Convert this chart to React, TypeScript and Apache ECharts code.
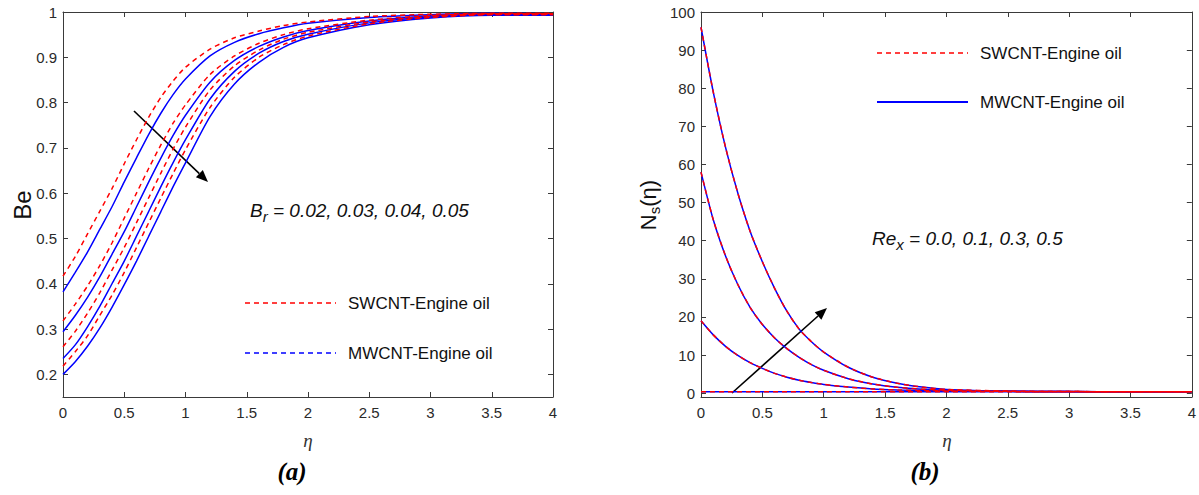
import React, { useEffect, useRef } from "react";
import * as echarts from "echarts";

// eta grid shared by all curves
const etas = [0, 0.1, 0.2, 0.3, 0.4, 0.5, 0.6, 0.7, 0.8, 0.9, 1.0, 1.2, 1.4, 1.6, 1.8, 2.0, 2.5, 3.0, 3.5, 4.0];

// (a) Bejan number, Br = 0.02, 0.03, 0.04, 0.05
const beSW_002 = [0.417, 0.46, 0.51, 0.56, 0.61, 0.665, 0.718, 0.768, 0.812, 0.848, 0.878, 0.918, 0.943, 0.958, 0.97, 0.978, 0.99, 0.995, 0.997, 0.997];
const beMW_002 = [0.382, 0.425, 0.47, 0.52, 0.57, 0.625, 0.678, 0.73, 0.777, 0.818, 0.852, 0.903, 0.933, 0.952, 0.965, 0.975, 0.988, 0.994, 0.997, 0.996];
const beSW_003 = [0.318, 0.355, 0.395, 0.44, 0.49, 0.545, 0.6, 0.655, 0.707, 0.755, 0.795, 0.862, 0.903, 0.931, 0.95, 0.963, 0.982, 0.992, 0.996, 0.996];
const beMW_003 = [0.294, 0.33, 0.37, 0.415, 0.465, 0.515, 0.57, 0.625, 0.678, 0.728, 0.772, 0.845, 0.893, 0.924, 0.945, 0.959, 0.98, 0.991, 0.995, 0.995];
const beSW_004 = [0.261, 0.295, 0.335, 0.38, 0.43, 0.48, 0.535, 0.59, 0.645, 0.698, 0.746, 0.828, 0.881, 0.916, 0.94, 0.955, 0.978, 0.99, 0.995, 0.995];
const beMW_004 = [0.235, 0.265, 0.305, 0.35, 0.4, 0.45, 0.505, 0.56, 0.615, 0.668, 0.718, 0.808, 0.869, 0.909, 0.935, 0.951, 0.976, 0.989, 0.994, 0.994];
const beSW_005 = [0.218, 0.25, 0.285, 0.33, 0.375, 0.425, 0.48, 0.535, 0.59, 0.644, 0.696, 0.789, 0.856, 0.9, 0.928, 0.947, 0.974, 0.988, 0.994, 0.994];
const beMW_005 = [0.2, 0.228, 0.262, 0.302, 0.348, 0.398, 0.45, 0.505, 0.56, 0.615, 0.667, 0.769, 0.841, 0.889, 0.922, 0.943, 0.972, 0.987, 0.993, 0.993];

// (b) Entropy generation Ns, Re_x = 0.0, 0.1, 0.3, 0.5
const ns_00 = [0.4, 0.4, 0.4, 0.4, 0.4, 0.4, 0.4, 0.4, 0.4, 0.4, 0.4, 0.4, 0.4, 0.4, 0.4, 0.4, 0.4, 0.4, 0.4, 0.4];
const ns_01 = [19, 15.3, 12.3, 9.9, 8.0, 6.5, 5.2, 4.2, 3.4, 2.8, 2.3, 1.6, 1.1, 0.85, 0.7, 0.6, 0.48, 0.42, 0.4, 0.4];
const ns_03 = [58, 45.5, 36, 28.5, 22.5, 18, 14.5, 11.7, 9.4, 7.5, 6.0, 3.8, 2.4, 1.55, 1.05, 0.8, 0.5, 0.42, 0.4, 0.4];
const ns_05 = [96, 79, 64.5, 52.5, 42.5, 34.5, 27.5, 21.5, 16.8, 13.5, 10.8, 6.8, 4.2, 2.6, 1.6, 1.0, 0.55, 0.42, 0.4, 0.4];

const beTicks = [0.2, 0.3, 0.4, 0.5, 0.6, 0.7, 0.8, 0.9, 1];
const nsTicks = [0, 10, 20, 30, 40, 50, 60, 70, 80, 90, 100];

const RED = "#ff0000";
const BLUE = "#0000ff";
const AXIS = "#3a3a3a";
const TXT = "#2a2a2a";
const SANS = "'Liberation Sans', Arial, sans-serif";
const SERIF = "'Liberation Serif', 'Times New Roman', serif";

const pts = (arr: number[]) => etas.map((x, i) => [x, arr[i]]);

function arrow(x1: number, y1: number, x2: number, y2: number) {
  const dx = x2 - x1, dy = y2 - y1;
  const L = Math.sqrt(dx * dx + dy * dy);
  const ux = dx / L, uy = dy / L;
  const hl = 12, hw = 5;
  const bx = x2 - ux * hl, by = y2 - uy * hl;
  const px = -uy * hw, py = ux * hw;
  return [
    { type: "line", shape: { x1, y1, x2: bx, y2: by }, style: { stroke: "#000", lineWidth: 1.6 } },
    { type: "polygon", shape: { points: [[x2, y2], [bx + px, by + py], [bx - px, by - py]] }, style: { fill: "#000" } },
  ];
}

export default function App() {
  const ref = useRef<HTMLDivElement>(null);
  useEffect(() => {
    document.body.style.margin = "0";
    const chart = echarts.init(ref.current!, null, { renderer: "svg" });

    const xBase = (gi: number, pos: string, labels: boolean) => ({
      type: "value",
      gridIndex: gi,
      position: pos,
      min: 0,
      max: 4,
      interval: 0.5,
      axisLine: { show: true, onZero: false, lineStyle: { color: AXIS, width: 1 } },
      axisTick: { show: true, inside: true, length: 5, lineStyle: { color: AXIS } },
      axisLabel: { show: labels, color: TXT, fontSize: 15, fontFamily: SANS, margin: 8 },
      splitLine: { show: false },
    });
    const yBase = (gi: number, pos: string, labels: boolean, min: number, max: number, ticks: number[]) => ({
      type: "value",
      gridIndex: gi,
      position: pos,
      min,
      max,
      axisLine: { show: true, onZero: false, lineStyle: { color: AXIS, width: 1 } },
      axisTick: { show: true, inside: true, length: 5, customValues: ticks, lineStyle: { color: AXIS } },
      axisLabel: {
        show: labels,
        customValues: ticks,
        color: TXT,
        fontSize: 15,
        fontFamily: SANS,
        margin: 6,
        formatter: (v: number) => String(Math.round(v * 10) / 10),
      },
      splitLine: { show: false },
    });

    const lineS = (xi: number, data: number[], color: string, dashed: boolean) => ({
      type: "line",
      xAxisIndex: xi,
      yAxisIndex: xi,
      data: pts(data),
      smooth: 0.25,
      symbol: "none",
      lineStyle: { color, width: 1.5, type: dashed ? [5, 4] : "solid" },
      z: dashed ? 3 : 2,
    });

    const option: any = {
      animation: false,
      backgroundColor: "#ffffff",
      grid: [
        { left: 63, top: 12, width: 490, height: 385, containLabel: false },
        { left: 701, top: 12, width: 491, height: 385, containLabel: false },
      ],
      xAxis: [xBase(0, "bottom", true), xBase(1, "bottom", true), xBase(0, "top", false), xBase(1, "top", false)],
      yAxis: [
        yBase(0, "left", true, 0.15, 1, beTicks),
        yBase(1, "left", true, -1, 100, nsTicks),
        yBase(0, "right", false, 0.15, 1, beTicks),
        yBase(1, "right", false, -1, 100, nsTicks),
      ],
      series: [
        lineS(0, beMW_002, BLUE, false),
        lineS(0, beSW_002, RED, true),
        lineS(0, beMW_003, BLUE, false),
        lineS(0, beSW_003, RED, true),
        lineS(0, beMW_004, BLUE, false),
        lineS(0, beSW_004, RED, true),
        lineS(0, beMW_005, BLUE, false),
        lineS(0, beSW_005, RED, true),
        lineS(1, ns_00, BLUE, false),
        lineS(1, ns_00, RED, true),
        lineS(1, ns_01, BLUE, false),
        lineS(1, ns_01, RED, true),
        lineS(1, ns_03, BLUE, false),
        lineS(1, ns_03, RED, true),
        lineS(1, ns_05, BLUE, false),
        lineS(1, ns_05, RED, true),
      ],
      graphic: [
        // axis titles
        { type: "text", x: 22, y: 205, rotation: Math.PI / 2, style: { text: "Be", font: `24px ${SANS}`, fill: "#111", align: "center", verticalAlign: "middle" } },
        {
          type: "text", x: 648, y: 205, rotation: Math.PI / 2,
          style: {
            text: "{n|N}{s|s}{n|(η)}",
            align: "center", verticalAlign: "middle",
            rich: {
              n: { fontSize: 22, fontFamily: SANS, fill: "#111" },
              s: { fontSize: 15, fontFamily: SANS, fill: "#111", padding: [12, 0, 0, 0] },
            },
          },
        },
        { type: "text", x: 308, y: 440, style: { text: "η", font: `italic 19px ${SERIF}`, fill: "#333", align: "center", verticalAlign: "middle" } },
        { type: "text", x: 947, y: 440, style: { text: "η", font: `italic 19px ${SERIF}`, fill: "#333", align: "center", verticalAlign: "middle" } },
        { type: "text", x: 292, y: 471, style: { text: "(a)", font: `italic bold 25px ${SERIF}`, fill: "#000", align: "center", verticalAlign: "middle" } },
        { type: "text", x: 925, y: 471, style: { text: "(b)", font: `italic bold 25px ${SERIF}`, fill: "#000", align: "center", verticalAlign: "middle" } },
        // annotations
        {
          type: "text", x: 250, y: 210,
          style: {
            text: "{b|B}{s|r}{b| = 0.02, 0.03, 0.04, 0.05}",
            align: "left", verticalAlign: "middle",
            rich: {
              b: { fontSize: 19, fontStyle: "italic", fontFamily: SANS, fill: "#111" },
              s: { fontSize: 15, fontStyle: "italic", fontFamily: SANS, fill: "#111", padding: [12, 0, 0, 0] },
            },
          },
        },
        {
          type: "text", x: 872, y: 238,
          style: {
            text: "{b|Re}{s|x}{b| = 0.0, 0.1, 0.3, 0.5}",
            align: "left", verticalAlign: "middle",
            rich: {
              b: { fontSize: 19, fontStyle: "italic", fontFamily: SANS, fill: "#111" },
              s: { fontSize: 15, fontStyle: "italic", fontFamily: SANS, fill: "#111", padding: [12, 0, 0, 0] },
            },
          },
        },
        // legends (a)
        { type: "line", shape: { x1: 245, y1: 303, x2: 336, y2: 303 }, style: { stroke: RED, lineWidth: 1.5, lineDash: [5, 4] } },
        { type: "text", x: 348, y: 303, style: { text: "SWCNT-Engine oil", font: `17px ${SANS}`, fill: "#111", verticalAlign: "middle" } },
        { type: "line", shape: { x1: 245, y1: 353, x2: 336, y2: 353 }, style: { stroke: BLUE, lineWidth: 1.5, lineDash: [5, 4] } },
        { type: "text", x: 348, y: 353, style: { text: "MWCNT-Engine oil", font: `17px ${SANS}`, fill: "#111", verticalAlign: "middle" } },
        // legends (b)
        { type: "line", shape: { x1: 877, y1: 53, x2: 968, y2: 53 }, style: { stroke: RED, lineWidth: 1.5, lineDash: [5, 4] } },
        { type: "text", x: 980, y: 53, style: { text: "SWCNT-Engine oil", font: `17px ${SANS}`, fill: "#111", verticalAlign: "middle" } },
        { type: "line", shape: { x1: 877, y1: 102, x2: 968, y2: 102 }, style: { stroke: BLUE, lineWidth: 1.8 } },
        { type: "text", x: 980, y: 102, style: { text: "MWCNT-Engine oil", font: `17px ${SANS}`, fill: "#111", verticalAlign: "middle" } },
        // arrows
        ...arrow(134, 111, 208, 182),
        ...arrow(732, 393, 827, 308),
      ],
    };
    chart.setOption(option);
    return () => chart.dispose();
  }, []);
  return <div ref={ref} style={{ width: 1199, height: 495 }} />;
}
